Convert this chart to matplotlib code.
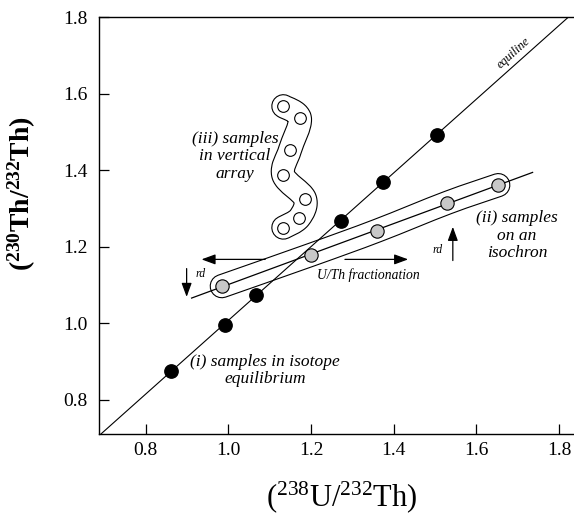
import numpy as np
import matplotlib
matplotlib.use("Agg")
from matplotlib import pyplot as plt
from matplotlib.path import Path
from matplotlib.patches import PathPatch

plt.rcParams["font.family"] = ["Liberation Serif", "DejaVu Serif"]
plt.rcParams["mathtext.fontset"] = "custom"
plt.rcParams["mathtext.rm"] = "Liberation Serif"
plt.rcParams["mathtext.it"] = "Liberation Serif:italic"
plt.rcParams["mathtext.bf"] = "Liberation Serif:bold"

# (i) samples in isotope equilibrium
equil_x = [0.860, 0.992, 1.067, 1.273, 1.373, 1.504]
equil_y = [0.875, 0.996, 1.075, 1.268, 1.369, 1.493]

# (ii) samples on an isochron
iso_x = [0.984, 1.200, 1.360, 1.530, 1.653]
iso_y = [1.097, 1.179, 1.242, 1.315, 1.361]
iso_range = [0.911, 1.736]

# (iii) samples in vertical array
vert_x = [1.133, 1.173, 1.149, 1.133, 1.185, 1.172, 1.133]
vert_y = [1.567, 1.535, 1.453, 1.387, 1.326, 1.276, 1.250]

xticks = [0.8, 1.0, 1.2, 1.4, 1.6, 1.8]
yticks = [0.8, 1.0, 1.2, 1.4, 1.6, 1.8]

dpi = 100
fig = plt.figure(figsize=(5.74, 5.16), dpi=dpi)
ax = fig.add_axes([99/574, 1-434/516, 477/574, 417/516])
ax.set_xlim(0.687, 1.841)
ax.set_ylim(0.711, 1.790)


def smooth_path(xs, ys):
    # catmull-rom curve through the samples, as cubic bezier pieces
    pts = np.column_stack([xs, ys])
    ext = np.vstack([pts[0], pts, pts[-1]])
    verts = [pts[0]]
    codes = [Path.MOVETO]
    for i in range(1, len(ext)-2):
        c1 = ext[i] + (ext[i+1] - ext[i-1]) / 6
        c2 = ext[i+1] - (ext[i+2] - ext[i]) / 6
        verts += [c1, c2, ext[i+1]]
        codes += [Path.CURVE4] * 3
    return Path(verts, codes)


def envelope(xs, ys, r_px, z):
    # outline drawn as a thick black stroke with a white stroke inside
    w = 2*r_px*72/dpi
    path = smooth_path(xs, ys)
    for col, lw, zz in (("black", w+1.6, z), ("white", w, z+0.1)):
        ax.add_patch(PathPatch(path, fill=False, edgecolor=col, lw=lw,
                               capstyle="round", joinstyle="round", zorder=zz))


envelope(vert_x, vert_y, 11, 1)
envelope(iso_x, iso_y, 11, 1)

# equiline
p = np.polyfit(equil_x, equil_y, 1)
ex = np.array(ax.get_xlim())
ax.plot(ex, np.polyval(p, ex), color="black", lw=0.8, zorder=2)

# isochron
q = np.polyfit(iso_x, iso_y, 1)
ix = np.array(iso_range)
ax.plot(ix, np.polyval(q, ix), color="black", lw=0.9, zorder=2)

ax.plot(equil_x, equil_y, "o", ms=9.6, mfc="black", mec="black", zorder=3)
ax.plot(iso_x, iso_y, "o", ms=9.6, mfc="#c8c8c8", mec="black", mew=0.8, zorder=3)
ax.plot(vert_x, vert_y, "o", ms=8.4, mfc="white", mec="black", mew=0.8, zorder=3)

arr = dict(arrowstyle="-|>,head_length=0.6,head_width=0.22", color="black",
           lw=0.9, shrinkA=0, shrinkB=0, mutation_scale=14)
ax.annotate("", xy=(0.935, 1.167), xytext=(1.089, 1.167), arrowprops=arr)
ax.annotate("", xy=(1.435, 1.167), xytext=(1.282, 1.167), arrowprops=arr)
ax.annotate("", xy=(0.899, 1.069), xytext=(0.899, 1.143), arrowprops=arr)
ax.annotate("", xy=(1.543, 1.252), xytext=(1.543, 1.164), arrowprops=arr)

ax.text(1.338, 1.125, "U/Th fractionation", style="italic", fontsize=9.8,
        ha="center", va="center")
ax.text(0.932, 1.130, "rd", style="italic", fontsize=8.5, ha="center", va="center")
ax.text(1.506, 1.191, "rd", style="italic", fontsize=8.5, ha="center", va="center")

ax.text(1.088, 0.877, "(i) samples in isotope\nequilibrium", style="italic",
        fontsize=12.5, ha="center", va="center", linespacing=1.1)
ax.text(1.698, 1.229, "(ii) samples\non an\nisochron", style="italic",
        fontsize=12.5, ha="center", va="center", linespacing=1.1)
ax.text(1.016, 1.436, "(iii) samples\nin vertical\narray", style="italic",
        fontsize=12.5, ha="center", va="center", linespacing=1.1)
ax.text(1.689, 1.707, "equiline", style="italic", fontsize=9,
        rotation=42, ha="center", va="center")

ax.set_xticks(xticks)
ax.set_yticks(yticks)
ax.set_xticklabels([f"{t:.1f}" for t in xticks], fontfamily="Liberation Serif",
                   fontsize=14)
ax.set_yticklabels([f"{t:.1f}" for t in yticks], fontfamily="Liberation Serif",
                   fontsize=14)
ax.tick_params(direction="in", length=7, width=0.9)
ax.tick_params(axis="x", pad=6)
ax.tick_params(axis="y", pad=8)
for s in ax.spines.values():
    s.set_linewidth(1.0)

fig.text(342/574, 1-497/516, r"($^{238}$U/$^{232}$Th)", fontsize=22,
         ha="center", va="center")
fig.text(22/574, 1-194/516, r"($^{\mathbf{230}}$Th/$^{\mathbf{232}}$Th)",
         fontsize=20, fontweight="bold", rotation=90, ha="center", va="center")

fig.savefig("out.png", dpi=dpi)
